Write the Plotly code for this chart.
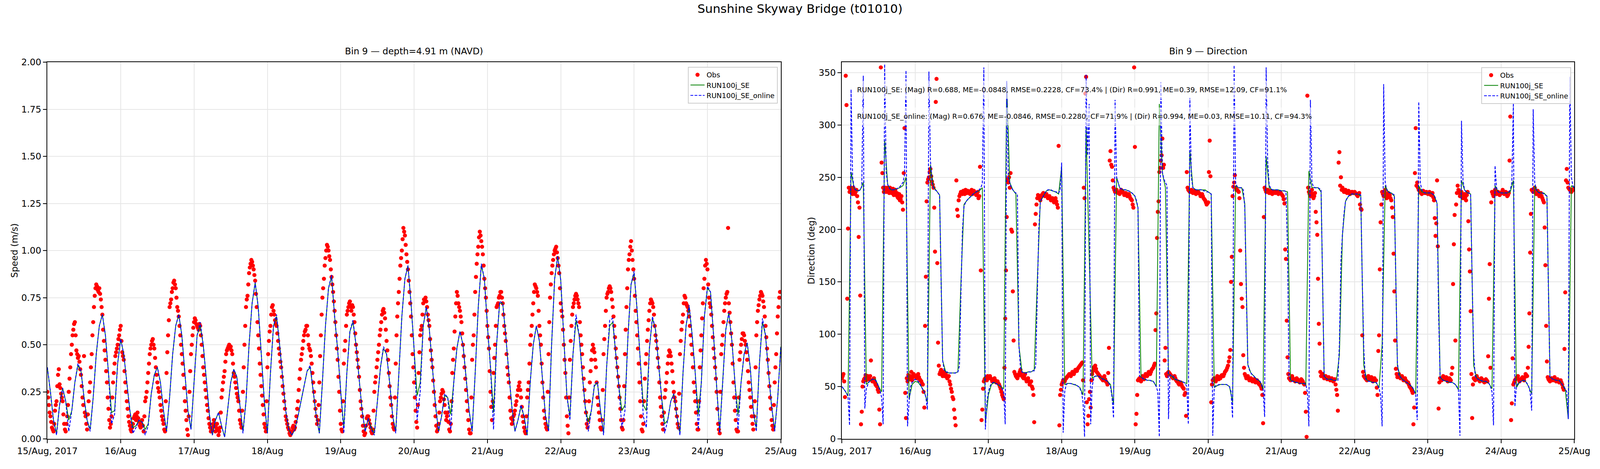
import pandas as pd
import plotly.graph_objects as go

# ---------------- data ----------------
BASE = pd.Timestamp("2017-08-15 00:00")
DAY_TICKS = ["2017-08-%02d" % d for d in range(15, 26)]
DAY_LABELS = ["15/Aug, 2017", "16/Aug", "17/Aug", "18/Aug", "19/Aug", "20/Aug",
              "21/Aug", "22/Aug", "23/Aug", "24/Aug", "25/Aug"]

# observed speed (m/s) on the hour and half hour, from 15 Aug 00:00
obs_speed = [
    0.25,0.18,0.12,0.06,0.04,0.15,0.20,0.34,0.29,0.24,0.20,0.08,0.04,0.12,0.25,0.38,0.50,0.58,0.62,0.47,0.43,0.41,0.34,0.22,
    0.44,0.12,0.05,0.20,0.30,0.45,0.62,0.76,0.82,0.79,0.80,0.74,0.66,0.52,0.42,0.30,0.16,0.06,0.12,0.30,0.40,0.46,0.50,0.55,
    0.60,0.46,0.42,0.30,0.20,0.12,0.07,0.04,0.08,0.12,0.10,0.14,0.09,0.06,0.10,0.04,0.20,0.25,0.35,0.45,0.50,0.53,0.48,0.38,
    0.30,0.25,0.18,0.12,0.08,0.04,0.35,0.55,0.70,0.74,0.80,0.84,0.80,0.70,0.65,0.55,0.45,0.34,0.20,0.10,0.02,0.25,0.45,0.55,
    0.62,0.63,0.60,0.58,0.60,0.50,0.38,0.30,0.22,0.15,0.08,0.04,0.06,0.10,0.04,0.08,0.02,0.06,0.22,0.30,0.36,0.45,0.48,0.50,
    0.49,0.45,0.35,0.30,0.24,0.20,0.10,0.06,0.25,0.50,0.70,0.76,0.88,0.93,0.94,0.90,0.84,0.70,0.55,0.40,0.28,0.18,0.08,0.04,
    0.38,0.52,0.60,0.70,0.68,0.63,0.60,0.52,0.45,0.38,0.28,0.20,0.12,0.08,0.05,0.02,0.04,0.07,0.06,0.12,0.20,0.32,0.42,0.48,
    0.55,0.58,0.60,0.50,0.47,0.40,0.30,0.20,0.12,0.10,0.30,0.55,0.75,0.85,0.96,1.03,1.00,0.95,0.86,0.78,0.68,0.55,0.42,0.25,
    0.08,0.04,0.40,0.52,0.66,0.70,0.73,0.68,0.70,0.62,0.50,0.42,0.33,0.20,0.12,0.04,0.03,0.11,0.12,0.08,0.04,0.05,0.25,0.33,
    0.42,0.50,0.58,0.66,0.69,0.64,0.52,0.42,0.28,0.18,0.08,0.05,0.40,0.65,0.78,0.92,1.00,1.12,1.08,0.98,0.90,0.78,0.65,0.45,
    0.30,0.15,0.06,0.35,0.55,0.60,0.72,0.74,0.73,0.66,0.60,0.47,0.38,0.25,0.12,0.04,0.08,0.20,0.24,0.25,0.18,0.10,0.14,0.05,
    0.08,0.35,0.48,0.65,0.78,0.72,0.68,0.62,0.50,0.38,0.26,0.15,0.05,0.03,0.42,0.55,0.78,0.93,1.02,1.10,1.05,0.98,0.85,0.75,
    0.60,0.48,0.25,0.10,0.35,0.50,0.70,0.72,0.76,0.78,0.72,0.60,0.52,0.38,0.30,0.15,0.08,0.12,0.15,0.20,0.26,0.30,0.22,0.12,
    0.06,0.03,0.22,0.30,0.50,0.60,0.72,0.82,0.80,0.76,0.60,0.50,0.30,0.15,0.08,0.05,0.45,0.75,0.88,0.95,1.00,1.02,0.96,0.88,
    0.72,0.65,0.50,0.35,0.12,0.03,0.42,0.60,0.70,0.74,0.77,0.74,0.70,0.55,0.45,0.32,0.20,0.08,0.10,0.30,0.42,0.50,0.46,0.38,
    0.22,0.14,0.06,0.10,0.45,0.60,0.75,0.78,0.81,0.78,0.70,0.60,0.48,0.38,0.28,0.16,0.06,0.10,0.45,0.70,0.90,0.98,1.05,0.95,
    0.85,0.68,0.55,0.40,0.20,0.05,0.08,0.32,0.45,0.58,0.68,0.74,0.72,0.66,0.55,0.48,0.38,0.22,0.12,0.05,0.22,0.30,0.40,0.47,
    0.44,0.36,0.25,0.20,0.12,0.06,0.45,0.58,0.66,0.76,0.72,0.70,0.65,0.55,0.45,0.30,0.20,0.08,0.05,0.38,0.55,0.72,0.85,0.95,
    0.90,0.75,0.70,0.60,0.48,0.38,0.25,0.08,0.03,0.45,0.55,0.68,0.75,0.78,0.72,0.62,0.50,0.30,0.15,0.05,0.04,0.42,0.50,0.56,
    0.55,0.50,0.42,0.30,0.22,0.12,0.05,0.20,0.55,0.68,0.74,0.78,0.76,0.70,0.60,0.48,0.35,0.22,0.10,0.05,0.30,0.45,0.65,0.75,
]

# observed speed (m/s) at quarter past / quarter to each hour, from 15 Aug 00:15
obs_speed_q = [
    0.22,0.14,0.09,0.05,0.08,0.18,0.28,0.37,0.27,0.22,0.13,0.05,0.08,0.18,0.32,0.45,0.55,0.61,0.55,0.45,0.44,0.37,0.28,0.18,
    0.14,0.08,0.13,0.25,0.38,0.55,0.70,0.80,0.81,0.78,0.77,0.70,0.58,0.47,0.36,0.22,0.10,0.08,0.22,0.35,0.44,0.48,0.53,0.58,
    0.52,0.44,0.36,0.25,0.16,0.09,0.05,0.06,0.11,0.13,0.12,0.11,0.07,0.08,0.07,0.12,0.22,0.30,0.40,0.48,0.52,0.50,0.43,0.34,
    0.27,0.22,0.15,0.10,0.05,0.20,0.46,0.63,0.72,0.78,0.83,0.82,0.75,0.68,0.60,0.50,0.40,0.27,0.15,0.05,0.12,0.36,0.50,0.59,
    0.64,0.61,0.59,0.61,0.55,0.44,0.34,0.26,0.18,0.11,0.06,0.05,0.08,0.07,0.06,0.05,0.04,0.14,0.26,0.33,0.41,0.47,0.49,0.48,
    0.47,0.40,0.33,0.27,0.22,0.15,0.08,0.15,0.38,0.60,0.74,0.82,0.91,0.95,0.92,0.87,0.77,0.62,0.48,0.34,0.23,0.13,0.06,0.20,
    0.45,0.57,0.66,0.71,0.66,0.61,0.56,0.48,0.41,0.33,0.24,0.16,0.10,0.06,0.03,0.03,0.06,0.05,0.09,0.16,0.26,0.37,0.45,0.52,
    0.57,0.60,0.55,0.48,0.44,0.35,0.25,0.16,0.08,0.18,0.44,0.66,0.80,0.92,1.00,1.02,0.97,0.90,0.82,0.73,0.62,0.48,0.33,0.15,
    0.05,0.20,0.47,0.60,0.68,0.72,0.70,0.71,0.66,0.56,0.46,0.38,0.26,0.16,0.07,0.02,0.07,0.12,0.10,0.06,0.03,0.15,0.30,0.38,
    0.46,0.55,0.62,0.68,0.67,0.58,0.47,0.35,0.22,0.12,0.06,0.22,0.55,0.72,0.85,0.96,1.06,1.10,1.03,0.94,0.84,0.72,0.55,0.38,
    0.22,0.09,0.18,0.46,0.58,0.66,0.74,0.75,0.70,0.63,0.53,0.42,0.31,0.18,0.07,0.05,0.14,0.22,0.26,0.21,0.14,0.12,0.09,0.04,
    0.20,0.42,0.57,0.72,0.76,0.70,0.65,0.56,0.44,0.32,0.20,0.10,0.03,0.22,0.50,0.66,0.86,0.98,1.07,1.08,1.02,0.92,0.80,0.68,
    0.54,0.36,0.17,0.20,0.43,0.60,0.71,0.75,0.78,0.75,0.66,0.56,0.45,0.34,0.22,0.11,0.10,0.13,0.18,0.23,0.28,0.26,0.17,0.09,
    0.04,0.12,0.26,0.40,0.55,0.66,0.78,0.81,0.78,0.68,0.55,0.40,0.22,0.11,0.06,0.25,0.62,0.82,0.92,0.98,1.01,0.99,0.92,0.80,
    0.68,0.58,0.42,0.22,0.07,0.22,0.52,0.66,0.72,0.76,0.76,0.72,0.62,0.50,0.38,0.26,0.14,0.06,0.20,0.36,0.47,0.48,0.42,0.30,
    0.18,0.10,0.05,0.26,0.53,0.68,0.77,0.80,0.80,0.74,0.65,0.54,0.43,0.33,0.22,0.10,0.05,0.28,0.58,0.80,0.95,1.02,1.00,0.90,
    0.76,0.62,0.48,0.30,0.12,0.04,0.20,0.40,0.52,0.63,0.72,0.73,0.70,0.60,0.52,0.43,0.30,0.17,0.08,0.14,0.26,0.35,0.44,0.46,
    0.40,0.30,0.22,0.16,0.08,0.24,0.52,0.62,0.72,0.75,0.71,0.68,0.60,0.50,0.38,0.25,0.14,0.05,0.20,0.47,0.64,0.80,0.92,0.93,
    0.82,0.72,0.66,0.54,0.43,0.32,0.16,0.05,0.25,0.50,0.62,0.72,0.77,1.12,0.67,0.56,0.40,0.22,0.10,0.04,0.22,0.46,0.53,0.56,
    0.52,0.46,0.36,0.26,0.17,0.08,0.12,0.38,0.62,0.71,0.76,0.77,0.73,0.65,0.54,0.42,0.28,0.16,0.07,0.18,0.38,0.56,0.70,0.78,
]

# observed direction (deg) on the hour and half hour
obs_dir = [
    58,62,40,319,201,236,240,234,238,236,232,193,137,26,55,58,56,60,57,75,55,58,52,50,
    45,14,264,240,238,236,240,235,238,236,233,238,235,230,228,232,219,297,20,55,58,60,56,62,
    60,58,62,57,55,52,30,155,245,250,258,246,240,179,344,92,62,66,60,64,62,58,60,52,
    45,38,20,247,213,232,236,234,236,238,235,236,234,238,236,235,233,236,232,161,28,55,58,56,
    58,60,57,56,58,54,55,52,48,42,38,115,212,245,240,200,141,64,60,58,62,66,60,58,
    62,55,58,52,55,48,16,215,230,232,228,233,235,232,234,230,232,228,230,226,230,224,280,42,
    52,56,55,58,60,62,60,64,62,66,65,68,70,72,56,230,346,14,38,30,62,68,70,64,
    62,60,58,56,60,55,52,87,275,260,240,236,238,235,234,238,236,233,235,232,234,230,228,221,
    279,24,56,58,55,60,57,62,60,64,62,66,68,72,120,217,255,266,287,262,87,60,64,62,
    60,58,60,56,55,52,54,50,48,44,255,238,236,238,235,237,234,236,235,232,234,230,228,224,
    226,285,35,56,58,55,60,57,58,61,60,64,66,70,78,150,232,245,240,238,236,180,134,80,
    62,58,60,56,58,55,57,54,56,53,52,48,15,240,236,238,235,237,234,236,235,236,234,236,
    234,232,225,172,78,58,56,60,57,55,58,56,54,57,55,52,26,328,236,232,238,230,235,207,
    153,91,60,62,58,60,57,59,56,58,55,57,47,27,274,250,240,236,238,235,237,234,236,235,
    236,234,232,235,220,99,60,58,56,60,57,59,55,58,56,42,99,207,236,232,238,230,235,233,
    228,212,141,67,59,62,58,60,56,58,55,54,50,48,44,30,297,245,238,236,234,237,235,236,
    234,236,233,235,228,194,247,29,58,56,60,57,59,55,58,56,68,186,94,235,238,232,236,230,
    234,228,236,181,122,20,58,56,60,57,55,58,56,54,57,55,134,68,236,232,238,234,236,233,
    235,238,234,236,232,235,308,34,52,56,58,60,55,57,59,56,62,60,88,178,238,236,240,234,
    237,232,235,230,226,166,74,57,55,58,56,59,55,57,54,56,52,47,140,258,240,238,236,238,
]

# observed direction (deg) at quarter past / quarter to each hour
obs_dir_q = [
    60,55,347,134,240,238,236,240,234,238,226,221,14,50,57,61,58,57,60,56,57,54,51,47,
    28,355,254,236,240,238,237,240,235,239,236,233,231,234,229,226,254,44,58,61,57,64,59,61,
    59,61,59,56,53,45,108,227,248,255,251,243,221,322,168,70,64,62,62,60,60,59,55,48,
    40,28,13,219,228,234,235,237,234,236,237,235,237,234,237,234,235,230,260,18,48,57,57,60,
    59,58,55,57,56,55,53,50,45,40,68,161,248,250,254,198,94,62,59,60,64,63,59,60,
    57,57,55,54,50,42,205,224,233,230,231,234,234,233,232,231,230,229,228,228,227,221,13,47,
    54,55,57,59,61,61,62,63,64,65,67,69,71,73,240,330,35,22,45,56,65,69,67,63,
    61,59,57,58,57,54,63,266,262,247,238,237,236,235,236,237,235,234,233,233,232,229,224,355,
    14,42,57,57,58,58,60,61,62,63,64,67,70,104,192,227,259,271,259,75,62,63,63,61,
    59,59,58,55,53,53,52,49,42,22,240,237,237,236,236,235,235,236,234,233,232,229,226,225,
    255,251,52,57,57,58,58,59,60,60,62,65,68,74,85,174,241,252,238,237,230,148,126,68,
    60,59,58,57,56,56,55,55,54,52,50,42,212,238,237,236,236,235,235,236,236,235,235,235,
    233,229,181,113,62,57,58,58,56,57,57,55,56,56,53,44,2,240,234,235,234,232,217,195,
    110,64,61,60,59,58,58,57,57,56,56,52,42,264,242,238,238,236,236,236,235,235,236,235,
    235,233,234,224,219,64,59,57,58,58,58,57,57,56,49,84,162,224,234,236,234,232,234,230,
    221,177,94,62,60,60,59,58,57,56,54,52,49,46,14,254,242,240,237,235,236,236,235,235,
    235,234,234,231,211,206,184,54,57,58,58,58,57,57,57,62,148,214,224,242,235,234,233,232,
    231,233,208,160,62,52,57,58,58,56,56,57,55,56,56,79,167,226,234,235,236,235,234,234,
    236,236,235,234,233,266,18,77,54,57,59,57,56,58,57,59,61,68,120,215,237,238,236,235,
    234,233,232,228,202,108,59,56,57,57,57,56,56,55,55,54,49,86,247,245,239,237,237,239,
]

# RUN100j_SE speed (m/s), hourly
se_speed = [
    0.38,0.25,0.10,0.03,0.18,0.27,0.20,0.10,0.15,0.30, 0.39,0.36,0.22,0.10,0.05,0.22,0.45,0.60,0.66,0.55,
    0.35,0.14,0.15,0.40,0.53,0.45,0.30,0.15,0.06,0.07, 0.10,0.09,0.05,0.08,0.24,0.34,0.38,0.30,0.15,0.04,
    0.22,0.45,0.60,0.66,0.55,0.35,0.15,0.05,0.30,0.55, 0.60,0.50,0.32,0.13,0.02,0.10,0.14,0.07,0.01,0.15,
    0.30,0.37,0.33,0.18,0.04,0.20,0.50,0.72,0.83,0.70, 0.45,0.20,0.03,0.35,0.60,0.65,0.50,0.32,0.15,0.05,
    0.02,0.05,0.12,0.20,0.28,0.36,0.38,0.25,0.12,0.03, 0.30,0.60,0.80,0.86,0.65,0.47,0.25,0.06,0.35,0.57,
    0.62,0.50,0.32,0.15,0.04,0.11,0.06,0.03,0.20,0.38, 0.48,0.45,0.30,0.12,0.04,0.35,0.65,0.85,0.92,0.72,
    0.48,0.23,0.30,0.60,0.70,0.58,0.38,0.18,0.04,0.12, 0.23,0.22,0.13,0.30,0.48,0.57,0.50,0.33,0.15,0.04,
    0.35,0.70,0.92,0.85,0.60,0.38,0.14,0.50,0.72,0.72, 0.55,0.35,0.17,0.04,0.10,0.17,0.12,0.02,0.30,0.50,
    0.60,0.52,0.32,0.12,0.05,0.50,0.85,0.97,0.84,0.53, 0.23,0.12,0.45,0.63,0.55,0.35,0.17,0.09,0.15,0.28,
    0.30,0.15,0.03,0.38,0.60,0.62,0.45,0.28,0.15,0.18, 0.55,0.82,0.88,0.68,0.42,0.18,0.15,0.48,0.64,0.58,
    0.40,0.22,0.08,0.10,0.20,0.24,0.12,0.03,0.35,0.60, 0.70,0.55,0.35,0.13,0.30,0.65,0.80,0.78,0.55,0.28,
    0.04,0.30,0.58,0.67,0.52,0.30,0.13,0.30,0.45,0.51, 0.38,0.15,0.06,0.40,0.62,0.55,0.35,0.17,0.05,0.22,
    0.49,
]

# RUN100j_SE_online speed (m/s), hourly
online_speed = [
    0.38,0.25,0.10,0.02,0.18,0.27,0.20,0.04,0.15,0.30, 0.40,0.36,0.22,0.10,0.04,0.22,0.45,0.60,0.66,0.55,
    0.35,0.08,0.13,0.40,0.53,0.45,0.30,0.15,0.03,0.06, 0.10,0.09,0.02,0.07,0.24,0.34,0.38,0.30,0.15,0.04,
    0.22,0.45,0.60,0.66,0.55,0.35,0.15,0.05,0.30,0.55, 0.62,0.50,0.32,0.13,0.02,0.10,0.14,0.07,0.01,0.15,
    0.30,0.37,0.33,0.18,0.03,0.20,0.50,0.72,0.83,0.70, 0.45,0.20,0.03,0.35,0.60,0.66,0.50,0.32,0.15,0.05,
    0.02,0.05,0.12,0.20,0.28,0.36,0.39,0.25,0.12,0.03, 0.30,0.60,0.80,0.87,0.65,0.47,0.25,0.03,0.35,0.57,
    0.63,0.50,0.32,0.15,0.04,0.11,0.05,0.02,0.20,0.38, 0.49,0.45,0.30,0.12,0.03,0.35,0.65,0.85,0.92,0.72,
    0.48,0.10,0.25,0.60,0.70,0.58,0.38,0.18,0.04,0.12, 0.24,0.22,0.05,0.30,0.48,0.57,0.50,0.33,0.15,0.04,
    0.35,0.70,0.93,0.85,0.60,0.38,0.05,0.50,0.73,0.72, 0.55,0.35,0.17,0.04,0.10,0.18,0.12,0.02,0.30,0.50,
    0.60,0.52,0.32,0.12,0.04,0.50,0.85,0.97,0.84,0.53, 0.23,0.10,0.45,0.66,0.55,0.35,0.17,0.04,0.15,0.29,
    0.30,0.15,0.02,0.38,0.63,0.64,0.45,0.28,0.06,0.15, 0.55,0.82,0.89,0.68,0.42,0.12,0.06,0.48,0.65,0.58,
    0.40,0.22,0.03,0.10,0.20,0.24,0.12,0.02,0.35,0.60, 0.71,0.55,0.35,0.05,0.30,0.65,0.81,0.78,0.55,0.28,
    0.03,0.30,0.58,0.67,0.52,0.30,0.05,0.30,0.45,0.51, 0.38,0.15,0.04,0.40,0.64,0.55,0.35,0.17,0.04,0.22,
    0.49,
]

# RUN100j_SE direction (deg), hourly
se_dir = [
    50,46,41,255,239,237,238,245,52,55, 57,57,50,45,285,243,238,238,239,240,
    242,250,38,52,55,54,50,45,35,262, 241,237,233,75,64,63,63,63,64,150,
    224,228,231,234,236,237,240,15,42,52, 54,52,50,48,340,245,238,234,89,64,
    63,64,64,66,150,227,232,237,238,237, 236,234,260,52,53,53,52,51,49,42,
    298,180,58,60,60,58,57,55,52,33, 250,240,238,238,237,235,232,221,59,57,
    56,56,55,50,320,254,240,62,60,57, 56,55,54,53,275,240,238,238,238,238,
    236,234,49,51,52,52,52,50,35,242, 240,240,225,71,63,60,57,55,47,270,
    240,238,238,238,237,237,236,56,55,54, 53,53,52,256,240,240,240,236,60,57,
    57,56,56,80,195,227,232,234,234,234, 232,70,56,55,54,54,49,90,242,236,
    235,232,70,59,56,54,52,49,43,242, 236,235,235,235,233,225,59,56,55,54,
    54,52,47,247,238,235,234,70,58,56, 55,55,53,48,242,236,235,235,235,236,
    247,49,54,56,55,50,43,242,236,235, 235,232,59,57,56,56,52,47,19,242,
    240,
]

# RUN100j_SE_online direction (deg), every 30 min
online_dir = [
    50,48,46,44,40,13,334,250,240,238, 237,237,238,241,347,29,48,52,55,56,
    57,57,56,54,50,46,40,14,358,255, 243,240,238,238,238,239,239,240,241,243,
    245,252,352,12,35,50,54,56,
    57,56,55,53,50,47,45,40,28,351, 266,245,240,238,237,235,233,150,75,66,
    64,64,63,63,63,63,63,63,64,70, 140,200,222,226,228,230,231,232,234,235,
    236,237,238,240,244,355,9,35,
    45,50,53,54,54,53,52,52,50,48, 45,14,342,250,245,240,238,236,235,233,
    89,68,64,63,63,63,64,64,64,65, 65,70,130,200,226,230,232,235,237,238,
    238,238,237,237,236,236,235,238,
    264,6,45,52,53,53,53,52,52,52, 51,50,48,45,35,2,348,271,320,14,
    50,58,60,60,60,59,58,57,57,56, 55,53,50,40,20,324,250,245,240,239,
    238,238,238,237,237,236,235,234,
    232,228,221,60,59,58,57,57,56,56, 56,55,55,53,50,45,2,341,255,248,
    245,242,19,61,61,60,58,57,56,56, 55,55,54,53,50,14,326,250,240,239,
    238,238,238,238,238,237,237,236,
    236,235,234,3,49,51,51,52,52,52, 52,52,52,51,50,45,20,357,245,241,
    240,240,240,238,221,140,71,66,63,61, 60,58,57,56,55,52,47,21,355,265,
    242,240,238,238,238,238,238,237,
    237,237,237,236,180,60,56,55,55,54, 54,54,53,53,53,53,52,45,12,324,
    245,241,240,240,240,239,238,150,60,58, 57,57,57,57,56,56,56,56,90,170,
    195,215,227,230,232,233,234,234,
    234,234,234,234,233,150,85,58,56,55, 55,54,54,54,54,52,48,42,12,339,
    245,238,236,235,235,234,233,150,73,60, 59,57,56,55,54,53,52,50,49,46,
    42,18,322,245,238,236,235,235,
    235,235,235,234,233,230,225,120,59,57, 56,56,55,55,54,54,54,53,52,50,
    47,3,304,247,238,236,235,235,234,150, 82,60,58,57,56,56,55,55,55,54,
    53,50,45,13,261,240,236,235,
    235,235,235,235,235,236,238,245,321,31, 50,53,54,55,56,56,55,53,50,45,
    27,315,245,238,236,235,235,235,234,233, 232,140,59,58,57,57,56,56,56,54,
    52,50,48,45,19,346,250,242,
    240,
]

STATS_SE = ("RUN100j_SE: (Mag) R=0.688, ME=-0.0848, RMSE=0.2228, CF=73.4% | "
            "(Dir) R=0.991, ME=0.39, RMSE=12.09, CF=91.1%")
STATS_ONLINE = ("RUN100j_SE_online: (Mag) R=0.676, ME=-0.0846, RMSE=0.2280, CF=71.9% | "
                "(Dir) R=0.994, ME=0.03, RMSE=10.11, CF=94.3%")


def stamps(n, step_min, offset_min=0):
    return [BASE + pd.Timedelta(minutes=offset_min + step_min * i) for i in range(n)]


def fmt(ts):
    return [t.strftime("%Y-%m-%d %H:%M") for t in ts]


def merged_obs(main, quarter):
    pairs = list(zip(stamps(len(main), 30), main)) + list(zip(stamps(len(quarter), 30, 15), quarter))
    pairs.sort(key=lambda p: p[0])
    return fmt([p[0] for p in pairs]), [p[1] for p in pairs]


# ---------------- styling ----------------
# layout fractions measured on the 5000x1200 reference; the page is shown in a
# 4096x1200 viewport, so the figure is sized to that and keeps the same fractions
FONT = "DejaVu Sans"
W, H = 4096, 1200
RW = 5000.0
LEFT = (148 / RW, 2440 / RW)
RIGHT = (2631 / RW, 4920 / RW)
YDOM = (1 - 1123 / H, 1 - 159 / H)
GRID = "#e6e6e6"
TICK_FS = 23
TITLE_FS = 31
SUB_FS = 23
SMALL_FS = 18

fig = go.Figure()

for xa, ya, leg, obs_main, obs_q, se_vals, on_vals, on_step in [
    ("x", "y", "legend", obs_speed, obs_speed_q, se_speed, online_speed, 60),
    ("x2", "y2", "legend2", obs_dir, obs_dir_q, se_dir, online_dir, 30),
]:
    ox, oy = merged_obs(obs_main, obs_q)
    fig.add_trace(go.Scatter(
        x=ox, y=oy, mode="markers", name="Obs",
        marker=dict(color="#ff0000", size=10.5, line=dict(width=0)),
        xaxis=xa, yaxis=ya, legend=leg))
    fig.add_trace(go.Scatter(
        x=fmt(stamps(len(se_vals), 60)), y=se_vals, mode="lines", name="RUN100j_SE",
        line=dict(color="#008000", width=2),
        xaxis=xa, yaxis=ya, legend=leg))
    fig.add_trace(go.Scatter(
        x=fmt(stamps(len(on_vals), on_step)), y=on_vals, mode="lines", name="RUN100j_SE_online",
        line=dict(color="#0000ff", width=2.2, dash="7px,3.5px"),
        xaxis=xa, yaxis=ya, legend=leg))

xcommon = dict(
    type="date", range=[DAY_TICKS[0], DAY_TICKS[-1]],
    tickmode="array", tickvals=DAY_TICKS, ticktext=DAY_LABELS,
    showgrid=True, gridcolor=GRID, gridwidth=1.5,
    showline=True, linecolor="black", linewidth=2, mirror=True,
    ticks="outside", ticklen=9, tickwidth=2, tickcolor="black",
    tickfont=dict(family=FONT, size=TICK_FS, color="black"),
    zeroline=False, automargin=False,
)
ycommon = dict(
    showgrid=True, gridcolor=GRID, gridwidth=1.5,
    showline=True, linecolor="black", linewidth=2, mirror=True,
    ticks="outside", ticklen=9, tickwidth=2, tickcolor="black",
    tickfont=dict(family=FONT, size=TICK_FS, color="black"),
    zeroline=False, automargin=False, domain=list(YDOM),
)

legcommon = dict(
    bgcolor="rgba(255,255,255,0.8)", bordercolor="#cccccc", borderwidth=2,
    font=dict(family=FONT, size=SMALL_FS, color="black"),
    xanchor="right", yanchor="top", itemwidth=36, tracegroupgap=0,
)

fig.update_layout(
    width=W, height=H, autosize=False,
    margin=dict(l=0, r=0, t=0, b=0),
    paper_bgcolor="white", plot_bgcolor="white",
    font=dict(family=FONT, color="black"),
    title=dict(text="Sunshine Skyway Bridge (t01010)", x=0.5, xanchor="center",
               y=1 - 22 / H, yanchor="middle",
               font=dict(family=FONT, size=TITLE_FS, color="black")),
    xaxis=dict(domain=list(LEFT), anchor="y", **xcommon),
    yaxis=dict(anchor="x", range=[0, 2.0], tickmode="array",
               tickvals=[0, 0.25, 0.5, 0.75, 1.0, 1.25, 1.5, 1.75, 2.0],
               ticktext=["0.00", "0.25", "0.50", "0.75", "1.00", "1.25", "1.50", "1.75", "2.00"],
               **ycommon),
    xaxis2=dict(domain=list(RIGHT), anchor="y2", **xcommon),
    yaxis2=dict(anchor="x2", range=[0, 360], tickmode="array",
                tickvals=[0, 50, 100, 150, 200, 250, 300, 350],
                ticktext=["0", "50", "100", "150", "200", "250", "300", "350"],
                **ycommon),
    showlegend=True,
    legend=dict(x=2430 / RW, y=1 - 171 / H, **legcommon),
    legend2=dict(x=4910 / RW, y=1 - 172 / H, **legcommon),
)

for text, xc in [("Bin 9 — depth=4.91 m (NAVD)", (LEFT[0] + LEFT[1]) / 2),
                 ("Bin 9 — Direction", (RIGHT[0] + RIGHT[1]) / 2)]:
    fig.add_annotation(text=text, x=xc, y=1 - 131 / H, xref="paper", yref="paper",
                       xanchor="center", yanchor="middle", showarrow=False,
                       font=dict(family=FONT, size=SUB_FS, color="black"))

for text, xc in [("Speed (m/s)", 45 / RW), ("Direction (deg)", 2536 / RW)]:
    fig.add_annotation(text=text, xref="paper", yref="paper", x=xc,
                       y=(YDOM[0] + YDOM[1]) / 2, textangle=-90, showarrow=False,
                       xanchor="center", yanchor="middle",
                       font=dict(family=FONT, size=SUB_FS, color="black"))

for txt, yc in [(STATS_SE, 230), (STATS_ONLINE, 298)]:
    fig.add_annotation(text=txt, xref="paper", yref="paper", x=2664 / RW, y=1 - yc / H,
                       xanchor="left", yanchor="middle", showarrow=False,
                       bgcolor="rgba(255,255,255,0.6)", borderpad=12, borderwidth=0,
                       font=dict(family=FONT, size=SMALL_FS, color="black"))

POST = """
var gd=document.getElementById('{plot_id}');
document.documentElement.style.margin='0';
document.body.style.margin='0';
document.body.style.overflow='hidden';
var w=window.innerWidth, h=window.innerHeight;
if (w > 0 && h > 0 && (Math.abs(w-gd.layout.width) > 1 || Math.abs(h-gd.layout.height) > 1)) {
  Plotly.relayout(gd, {width: w, height: h});
}
"""
fig.write_html("out.html", config={"displayModeBar": False}, post_script=POST)
